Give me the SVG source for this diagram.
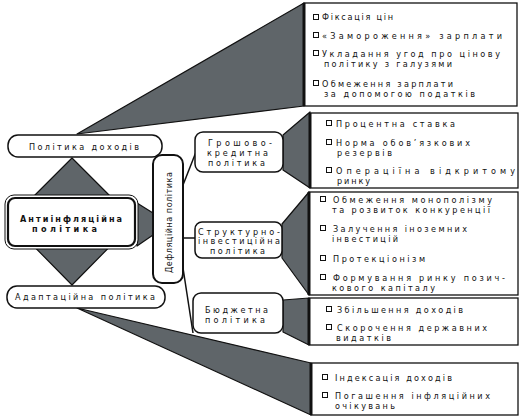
<svg xmlns="http://www.w3.org/2000/svg" width="523" height="418" viewBox="0 0 523 418">
<style>
text{font-family:"Liberation Sans Narrow","DejaVu Sans Condensed","Liberation Sans",sans-serif;font-size:9px;fill:#111}
.b{font-weight:bold}
.wedge{fill:#5f6569;stroke:#111;stroke-width:1.2;stroke-linejoin:round}
.line{stroke:#111;stroke-width:1.5;fill:none}
.rbox{fill:#fff;stroke:#111;stroke-width:1.3}
.thick{stroke:#111;stroke-width:3}
.pill{fill:#fff;stroke:#111;stroke-width:1.5}
.cb{fill:#fff;stroke:#111;stroke-width:1}
</style>
<rect width="523" height="418" fill="#fff"/>
<g id="connectors">
<polygon class="wedge" points="9,221 72,158 135,221 72,285"/>
<polygon class="wedge" points="77,134 304,3 304,106"/>
<polygon class="wedge" points="77,308 311,363 311,415"/>
<polygon class="wedge" points="283,135 310,112 310,188 283,170"/>
<polygon class="wedge" points="282,224 309,192 309,295 282,258"/>
<polygon class="wedge" points="283,300 309,298 309,345 283,332"/>
<polygon class="wedge" points="137,203 153,213 153,235 137,246"/>
<line class="line" x1="183" y1="185" x2="196" y2="152"/>
<line class="line" x1="183" y1="238" x2="195" y2="238"/>
<line class="line" x1="183" y1="268" x2="193" y2="333"/>
</g>
<g id="box-incomes-measures">
<rect class="rbox" x="304" y="3" width="213" height="103"/>
<line class="thick" x1="304" y1="3" x2="304" y2="106"/>
<rect class="cb" x="313.5" y="14.5" width="5" height="5"/><text x="322" y="20" textLength="71" lengthAdjust="spacing">Фіксація цін</text>
<rect class="cb" x="313.5" y="32.5" width="5" height="5"/><text x="322" y="38.5" textLength="180" lengthAdjust="spacing">«Замороження» зарплати</text>
<rect class="cb" x="313.5" y="50.5" width="5" height="5"/><text x="322" y="56.5" textLength="178" lengthAdjust="spacing">Укладання угод про цінову</text>
<text x="324" y="66.5" textLength="128" lengthAdjust="spacing">політику з галузями</text>
<rect class="cb" x="313.5" y="80.5" width="5" height="5"/><text x="322" y="86.5" textLength="131" lengthAdjust="spacing">Обмеження зарплати</text>
<text x="324" y="96.5" textLength="151" lengthAdjust="spacing">за допомогою податків</text>
</g>
<g id="box-monetary-measures">
<rect class="rbox" x="310" y="113" width="208" height="75"/>
<line class="thick" x1="310" y1="113" x2="310" y2="188"/>
<rect class="cb" x="326.5" y="120.5" width="5" height="5"/><text x="336" y="126.5" textLength="119" lengthAdjust="spacing">Процентна ставка</text>
<rect class="cb" x="326.5" y="139.5" width="5" height="5"/><text x="336" y="145.5" textLength="134" lengthAdjust="spacing">Норма обов’язкових</text>
<text x="337" y="155.5" textLength="55" lengthAdjust="spacing">резервів</text>
<rect class="cb" x="326.5" y="167.5" width="5" height="5"/><text x="336" y="173.5" textLength="179" lengthAdjust="spacing">Операціїна відкритому</text>
<text x="337" y="184" textLength="33" lengthAdjust="spacing">ринку</text>
</g>
<g id="box-structural-measures">
<rect class="rbox" x="309" y="192" width="209" height="103"/>
<line class="thick" x1="309" y1="192" x2="309" y2="295"/>
<rect class="cb" x="320.5" y="196.5" width="5" height="5"/><text x="333" y="202.5" textLength="159" lengthAdjust="spacing">Обмеження монополізму</text>
<text x="332" y="212.5" textLength="158" lengthAdjust="spacing">та розвиток конкуренції</text>
<rect class="cb" x="320.5" y="225.5" width="5" height="5"/><text x="333" y="231.5" textLength="134" lengthAdjust="spacing">Залучення іноземних</text>
<text x="332" y="241.5" textLength="66" lengthAdjust="spacing">інвестицій</text>
<rect class="cb" x="320.5" y="255.5" width="5" height="5"/><text x="333" y="261.5" textLength="92" lengthAdjust="spacing">Протекціонізм</text>
<rect class="cb" x="320.5" y="274.5" width="5" height="5"/><text x="333" y="280.5" textLength="172" lengthAdjust="spacing">Формування ринку позич-</text>
<text x="332" y="290.5" textLength="103" lengthAdjust="spacing">кового капіталу</text>
</g>
<g id="box-budget-measures">
<rect class="rbox" x="309" y="298" width="209" height="47"/>
<line class="thick" x1="309" y1="298" x2="309" y2="345"/>
<rect class="cb" x="326.5" y="306.5" width="5" height="5"/><text x="337" y="312.5" textLength="126" lengthAdjust="spacing">Збільшення доходів</text>
<rect class="cb" x="326.5" y="324.5" width="5" height="5"/><text x="337" y="330.5" textLength="150" lengthAdjust="spacing">Скорочення державних</text>
<text x="336" y="340.5" textLength="55" lengthAdjust="spacing">видатків</text>
</g>
<g id="box-adaptation-measures">
<rect class="rbox" x="311" y="363" width="207" height="52"/>
<line class="thick" x1="311" y1="363" x2="311" y2="415"/>
<rect class="cb" x="322.5" y="374.5" width="5" height="5"/><text x="335" y="380.5" textLength="117" lengthAdjust="spacing">Індексація доходів</text>
<rect class="cb" x="322.5" y="392.5" width="5" height="5"/><text x="335" y="398.5" textLength="155" lengthAdjust="spacing">Погашення інфляційних</text>
<text x="335" y="409" textLength="60" lengthAdjust="spacing">очікувань</text>
</g>
<g id="node-incomes-policy">
<rect class="pill" x="8" y="135" width="154" height="22" rx="10"/>
<text x="29" y="149.5" textLength="110" lengthAdjust="spacing">Політика доходів</text>
</g>
<g id="node-antiinflation">
<rect x="5" y="195" width="133" height="54" rx="9" fill="#fff" stroke="#111" stroke-width="1"/>
<rect x="8" y="198" width="127" height="48" rx="7" fill="none" stroke="#111" stroke-width="2.2"/>
<text class="b" x="20" y="221.5" textLength="102" lengthAdjust="spacing">Антиінфляційна</text>
<text class="b" x="32" y="231.5" textLength="65" lengthAdjust="spacing">політика</text>
</g>
<g id="node-adaptation">
<rect class="pill" x="7" y="286" width="158" height="22" rx="10"/>
<text x="15" y="300" textLength="140" lengthAdjust="spacing">Адаптаційна політика</text>
</g>
<g id="node-deflation">
<rect x="153" y="155" width="30" height="128" rx="9" fill="#fff" stroke="#111" stroke-width="2"/>
<text transform="translate(171.5,273) rotate(-90)" x="0" y="0" textLength="101" lengthAdjust="spacing">Дефляційна політика</text>
</g>
<g id="node-monetary">
<rect class="pill" x="195" y="132" width="88" height="40" rx="8"/>
<text x="208" y="145.5" textLength="64" lengthAdjust="spacing">Грошово-</text>
<text x="207" y="155.5" textLength="61" lengthAdjust="spacing">кредитна</text>
<text x="208" y="165.5" textLength="57" lengthAdjust="spacing">політика</text>
</g>
<g id="node-structural">
<rect class="pill" x="195" y="222" width="87" height="36" rx="7"/>
<text x="198" y="234.5" textLength="82" lengthAdjust="spacing">Структурно-</text>
<text x="198" y="244" textLength="82" lengthAdjust="spacing">інвестиційна</text>
<text x="210" y="253.5" textLength="55" lengthAdjust="spacing">політика</text>
</g>
<g id="node-budget">
<rect class="pill" x="193" y="293" width="90" height="40" rx="8"/>
<text x="205" y="313" textLength="63" lengthAdjust="spacing">Бюджетна</text>
<text x="205" y="322.5" textLength="60" lengthAdjust="spacing">політика</text>
</g>
</svg>
